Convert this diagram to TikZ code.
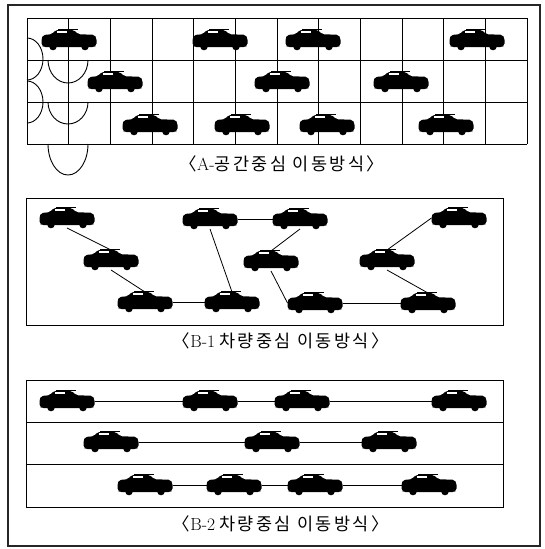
\documentclass[tikz,border=0pt]{standalone}
\usepackage{fontspec}
\newfontfamily\kr[LetterSpace=14]{Noto Sans CJK KR}
\begin{document}
\begin{tikzpicture}[x=1pt,y=-1pt,
  frameline/.style={line width=1.3pt, draw=black!85},
  gridline/.style={line width=0.9pt, draw=black},
  link/.style={line width=0.8pt, draw=black},
  carnode/.style={minimum width=55pt, minimum height=20pt, inner sep=0pt, outer sep=0pt},
  caption/.style={font=\fontsize{17.5}{20}\selectfont, inner sep=0pt},
  carpic/.pic={
    % body of the sedan
    \fill[black, rounded corners=2pt] (-27.5,5.5) -- (-27.5,-1.5) -- (-26,-5) -- (-17,-5.8)
      -- (-13.5,-10) -- (5,-10) -- (9,-5.8) -- (25.5,-5.2) -- (27.5,-2) -- (27.5,5.5)
      -- (25,7.2) -- (-25,7.2) -- cycle;
    % wheels
    \fill (-16,6.5) circle [radius=3.8];
    \fill (16,6.5) circle [radius=3.8];
    % side window
    \fill[white] (-12.5,-8.6) rectangle (-2,-7);
    % roof rack
    \draw[line width=0.8pt] (-11,-11) -- (9,-11);
  }
]
\useasboundingbox (0,0) rectangle (544,549);
\draw[frameline] (8,5) rectangle (540,546);

% ---------- panel A: grid of cells ----------
\foreach \yy in {18,60,102,144} \draw[gridline] (27,\yy) -- (527,\yy);
\foreach \i in {0,...,12} \draw[gridline] ({27+\i*500/12},18) -- ({27+\i*500/12},144);
% cell-sized turning zones
\draw[gridline] (27,38) arc[start angle=-90,end angle=90,x radius=16,y radius=21];
\draw[gridline] (27,81) arc[start angle=-90,end angle=90,x radius=16,y radius=21];
\draw[gridline] (48,60) arc[start angle=180,end angle=0,x radius=20,y radius=23];
\draw[gridline] (48,102) arc[start angle=180,end angle=0,x radius=20,y radius=22];
\draw[gridline] (48,144) arc[start angle=180,end angle=0,x radius=20,y radius=31];

\node[carnode] (a1) at (69,40) {};
\node[carnode] (a2) at (220,40) {};
\node[carnode] (a3) at (313,40) {};
\node[carnode] (a4) at (477,40) {};
\node[carnode] (a5) at (115,82) {};
\node[carnode] (a6) at (282,82) {};
\node[carnode] (a7) at (401,82) {};
\node[carnode] (a8) at (150,125) {};
\node[carnode] (a9) at (242,125) {};
\node[carnode] (a10) at (327,125) {};
\node[carnode] (a11) at (446,125) {};

\node[caption] (capA) at (282,164) {{\kr 〈}A-{\kr 공간중심 이동방식〉}};

% ---------- panel B-1 ----------
\draw[gridline] (26,198) rectangle (503,325);
\node[carnode] (b1) at (67,218) {};
\node[carnode] (b2) at (111,260) {};
\node[carnode] (b3) at (145,302) {};
\node[carnode] (b4) at (232,302) {};
\node[carnode] (b5) at (210,219) {};
\node[carnode] (b6) at (300,219) {};
\node[carnode] (b7) at (271,261) {};
\node[carnode] (b8) at (315,303) {};
\node[carnode] (b9) at (459,218) {};
\node[carnode] (b10) at (387,260) {};
\node[carnode] (b11) at (428,303) {};

\draw[link] (b1.south) -- (b2.north);
\draw[link] (b2.south) -- (b3.north);
\draw[link] (b3.east) -- (b4.west);
\draw[link] (b5.south) -- (b4.north);
\draw[link] (b5.east) -- (b6.west);
\draw[link] (b6.south) -- (b7.north);
\draw[link] (b7.south) -- (b8.west);
\draw[link] (b8.east) -- (b11.west);
\draw[link] (b9.west) -- (b10.north);
\draw[link] (b10.south) -- (b11.north);

\node[caption] (capB1) at (281,341) {{\kr 〈}B-1\hspace{4pt}{\kr 차량중심 이동방식〉}};

% ---------- panel B-2: three lanes ----------
\draw[gridline] (26,380) rectangle (503,507);
\draw[gridline] (26,422) -- (503,422);
\draw[gridline] (26,464) -- (503,464);

\node[carnode] (c1) at (67,401) {};
\node[carnode] (c2) at (210,401) {};
\node[carnode] (c3) at (302,401) {};
\node[carnode] (c4) at (459,401) {};
\node[carnode] (c5) at (111,442) {};
\node[carnode] (c6) at (272,442) {};
\node[carnode] (c7) at (389,442) {};
\node[carnode] (c8) at (145,485) {};
\node[carnode] (c9) at (234,485) {};
\node[carnode] (c10) at (315,485) {};
\node[carnode] (c11) at (429,485) {};

\draw[link] (c1.east) -- (c2.west);
\draw[link] (c2.east) -- (c3.west);
\draw[link] (c3.east) -- (c4.west);
\draw[link] (c5.east) -- (c6.west);
\draw[link] (c6.east) -- (c7.west);
\draw[link] (c8.east) -- (c9.west);
\draw[link] (c9.east) -- (c10.west);
\draw[link] (c10.east) -- (c11.west);

\node[caption] (capB2) at (281,524) {{\kr 〈}B-2\hspace{4pt}{\kr 차량중심 이동방식〉}};

% car silhouettes on every vehicle node
\foreach \n in {a1,a2,a3,a4,a5,a6,a7,a8,a9,a10,a11,
                b1,b2,b3,b4,b5,b6,b7,b8,b9,b10,b11,
                c1,c2,c3,c4,c5,c6,c7,c8,c9,c10,c11}
  \pic at (\n) {carpic};
\end{tikzpicture}
\end{document}
